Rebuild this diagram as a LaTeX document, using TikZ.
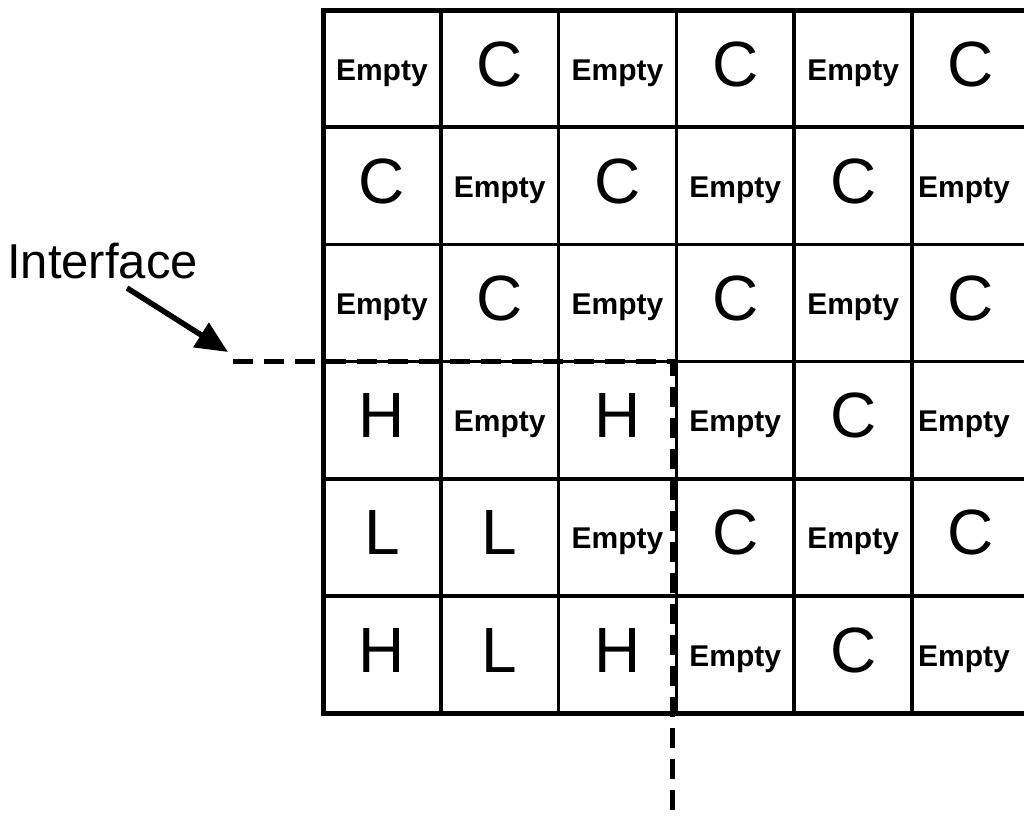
\documentclass[tikz,border=0pt]{standalone}
\usepackage{fontspec}
\setmainfont{Liberation Sans}
\usetikzlibrary{arrows.meta}
\begin{document}
\begin{tikzpicture}[x=1pt,y=-1pt,
  outer/.style={line width=5pt,line cap=rect},
  inner/.style={line width=3.5pt},
  iface/.style={line width=5pt,dash pattern=on 20pt off 11pt},
  arr/.style={line width=5.5pt,-{Triangle[length=32pt,width=28pt]}},
  gridcellb/.style={font=\fontsize{64}{64}\selectfont,inner sep=0pt,anchor=base},
  gridcells/.style={font=\bfseries\fontsize{30}{30}\selectfont,inner sep=0pt,anchor=base},
  gridcellt/.style={gridcells,xshift=-7pt},
  lbl/.style={font=\fontsize{49}{49}\selectfont,inner sep=0pt,anchor=base west}]
\useasboundingbox (0,0) rectangle (1024,815);
\fill[white] (0,0) rectangle (1024,815);
\begin{scope}
\clip (0,0) rectangle (1024,815);
% inner grid lines
\foreach \i in {1,...,5} {
  \draw[inner] ({323+\i*117.8},10) -- ({323+\i*117.8},713.2);
  \draw[inner] (323,{10+\i*117.2}) -- (1040,{10+\i*117.2});
}
% outer border (right edge lies beyond the picture)
\draw[outer] (1040,10) -- (323,10) -- (323,713.2) -- (1040,713.2);
\draw[inner] (1029.8,10) -- (1029.8,713.2);
% cells
\foreach \row [count=\r] in {
  {s/Empty,b/C,s/Empty,b/C,s/Empty,b/C},
  {b/C,s/Empty,b/C,s/Empty,b/C,t/Empty},
  {s/Empty,b/C,s/Empty,b/C,s/Empty,b/C},
  {b/H,s/Empty,b/H,s/Empty,b/C,t/Empty},
  {b/L,b/L,s/Empty,b/C,s/Empty,b/C},
  {b/H,b/L,b/H,s/Empty,b/C,t/Empty}} {
  \foreach \k/\t [count=\c] in \row {
    \if b\k
      \node[gridcellb] (cell-\r-\c) at ({381.9+(\c-1)*117.8},{69+(\r-1)*117.2+17}) {\t};
    \else
      \node[gridcell\k] (cell-\r-\c) at ({381.9+(\c-1)*117.8},{69+(\r-1)*117.2+11}) {\t};
    \fi
  }
}
% interface
\coordinate (ifl) at (233,361.6);
\coordinate (ifc) at (672.5,361.6);
\coordinate (ifb) at (672.5,830);
\draw[iface] (ifl) -- (ifc) -- (ifb);
\end{scope}
\node[lbl] (label) at (7,278) {Interface};
\coordinate (arrs) at (127,288);
\coordinate (arrt) at (228,352);
\draw[arr] (arrs) -- (arrt);
\end{tikzpicture}
\end{document}
